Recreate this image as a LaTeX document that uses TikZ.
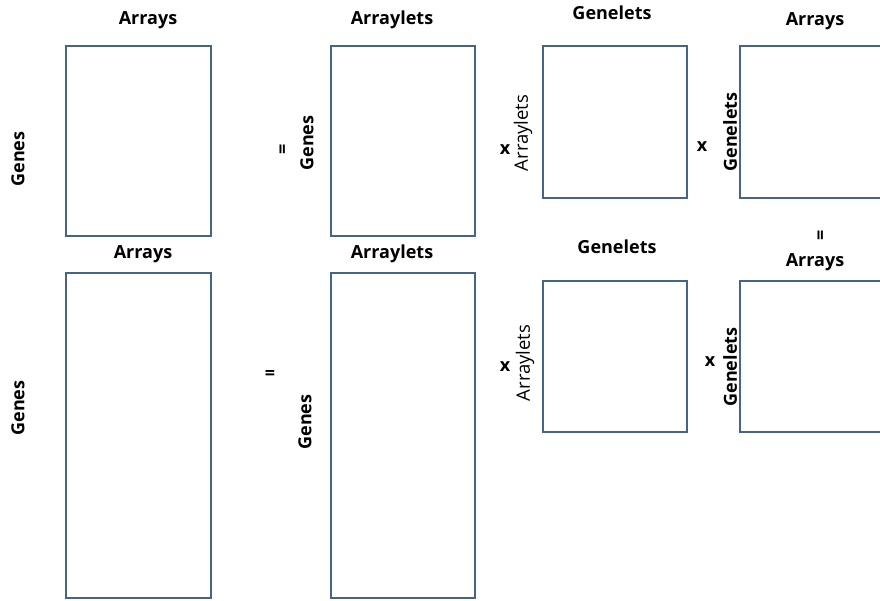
\documentclass[tikz,border=0pt]{standalone}
\usepackage{fontspec}
\setmainfont{Open Sans}
\begin{document}
\begin{tikzpicture}[x=1pt,y=-1pt,
  mat/.style={draw=matline, line width=2pt, fill=white, inner sep=0pt, outer sep=0pt},
  lbl/.style={font=\fontsize{18}{20}\selectfont\bfseries, inner sep=0pt},
  lblthin/.style={font=\fontsize{18.5}{20}\selectfont, inner sep=0pt},
  vlbl/.style={lbl, rotate=90},
  vlblthin/.style={lblthin, rotate=90},
  op/.style={font=\fontsize{18}{20}\selectfont\bfseries, inner sep=0pt}]
\definecolor{matline}{RGB}{68,100,140}
\useasboundingbox (0,0) rectangle (880,600);
\clip (0,0) rectangle (880,600);

% upper decomposition
\node[mat, minimum width=145, minimum height=190] (a1) at (138.5,141) {};
\node[mat, minimum width=144, minimum height=190] (a2) at (403,141) {};
\node[mat, minimum width=144, minimum height=152] (a3) at (615,122) {};
\node[mat, minimum width=150, minimum height=152] (a4) at (815,122) {};

\node[lbl] (a1t) at (148,20) {Arrays};
\node[vlbl] (a1l) at (18,159) {Genes};
\node[op, rotate=90] (a2eq) at (284,149) {=};
\node[vlbl] (a2l) at (307,143) {Genes};
\node[lbl] (a2t) at (392,20) {Arraylets};
\node[op] (a3x) at (505,150) {x};
\node[vlblthin] (a3l) at (523,133) {Arraylets};
\node[lbl] (a3t) at (612,13) {Genelets};
\node[lbl] (a4t) at (815,21) {Arrays};
\node[op] (a4x) at (702,147) {x};
\node[vlbl] (a4l) at (730,132) {Genelets};

% lower decomposition
\node[mat, minimum width=145, minimum height=325] (b1) at (138.5,435.5) {};
\node[mat, minimum width=144, minimum height=325] (b2) at (403,435.5) {};
\node[mat, minimum width=144, minimum height=151] (b3) at (615,356.5) {};
\node[mat, minimum width=150, minimum height=151] (b4) at (815,356.5) {};

\node[lbl] (b1t) at (143,254) {Arrays};
\node[vlbl] (b1l) at (18,408) {Genes};
\node[op] (b2eq) at (270,375) {=};
\node[vlbl] (b2l) at (305,422) {Genes};
\node[lbl] (b2t) at (392,254) {Arraylets};
\node[op] (b3x) at (505,367) {x};
\node[vlblthin] (b3l) at (525,363) {Arraylets};
\node[lbl] (b3t) at (617,247) {Genelets};
\node[op, rotate=90] (b4eq) at (822,235) {=};
\node[lbl] (b4t) at (815,262) {Arrays};
\node[op] (b4x) at (710,362) {x};
\node[vlbl] (b4l) at (730,367) {Genelets};
\end{tikzpicture}
\end{document}
